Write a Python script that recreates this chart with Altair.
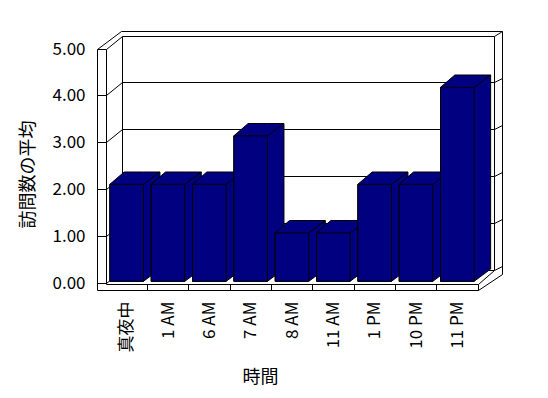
import json
import altair as alt
import pandas as pd

# ---------------- data ----------------
categories = ["真夜中", "1 AM", "6 AM", "7 AM", "8 AM", "11 AM", "1 PM", "10 PM", "11 PM"]
avg_visits = [2, 2, 2, 3, 1, 1, 2, 2, 4]
y_ticks = [0, 1, 2, 3, 4, 5]
x_title = "時間"
y_title = "訪問数の平均"

# ---------------- style / geometry ----------------
FONT = "Noto Sans CJK JP"
NAVY = "#000080"
PAD_L, PAD_T, PAD_R, PAD_B = 106, 49, 70, 115
W, H = 372, 234
N = len(categories)
YMAX = 5
STEP = W / N          # px per category
UNIT = H / YMAX       # px per value unit on the front plane


def ux(px):
    return (px - PAD_L) / STEP - 0.5


def uy(py):
    return (PAD_T + H - py) / UNIT


def snap(p):
    return int(p) + 0.5


# wall / floor outline (3-D frame decoration)
xLO, xLI, xBL, xBR, xRO, xFR = 97.5, 106.5, 122.5, 494.5, 502.5, 478.5
yFT, yBT, yOT = 49.5, 36.5, 31.5
yFLT, yFLB, yBB, yROB = 284.5, 290.5, 270.5, 274.5
DEPTH_Y = 13

segs = []


def seg(x1, y1, x2, y2):
    segs.append(dict(x=ux(x1), y=uy(y1), x2=ux(x2), y2=uy(y2)))


# left wall
seg(xLO, yFT, xLO, yFLB)
seg(xLI, yFT, xLI, yFLT)
seg(xLO, yFT, xLI, yFT)
seg(xLO, yFT, xBL - 1, yOT)
seg(xLI, yFT, xBL, yBT)
# back wall
seg(xBL - 1, yOT, xRO, yOT)
seg(xBL, yBT, xBR, yBT)
seg(xBL, yBT, xBL, yBB)
seg(xBR, yBT, xBR, yBB)
seg(xBR, yBT, xRO, yOT)
seg(xRO, yOT, xRO, yROB)
# floor
seg(xLO, yFLB, xFR, yFLB)
seg(xLI, yFLT, xFR, yFLT)
seg(xFR, yFLT, xFR, yFLB)
seg(xFR, yFLT, xBR, yBB)
seg(xFR, yFLB, xRO, yROB)
for k in range(1, N):
    xk = snap(PAD_L + k * STEP)
    seg(xk, yFLT, xk, yFLB)
# gridlines: front tick, left-wall diagonal, back wall line, right-wall stub
for v in y_ticks[:-1]:
    yf = snap(PAD_T + H - v * UNIT)
    yb = yf - DEPTH_Y
    seg(xLO, yf, xLI, yf)
    seg(xLI, yf, xBL, yb)
    seg(xBL, yb, xBR, yb)
    seg(xBR, yb, xRO, yb - 4)

frame_df = pd.DataFrame(segs)

# bars (3-D columns)
BAR_UNIT = 48.5
BAR_BOTTOM = 232.3
HW = 16.8 / STEP
DXL = 14.3 / STEP
DXR = 16.5 / STEP
DYB = 12.3 / BAR_UNIT

hex_rows, bar_rows = [], []
for i, (c, v) in enumerate(zip(categories, avg_visits)):
    hex_rows += [
        dict(i=i, x=i - HW, y=v, y2=0),
        dict(i=i, x=i - HW + DXL, y=v + DYB, y2=0),
        dict(i=i, x=i + HW, y=v + DYB, y2=0),
        dict(i=i, x=i + HW + DXR, y=v + DYB, y2=DYB),
    ]
    bar_rows.append(dict(i=i, cat=c, v=v, b0=0, xl=i - HW, xr=i + HW,
                         dx2=i + HW + DXR, vt=v + DYB))
hex_df = pd.DataFrame(hex_rows)
bar_df = pd.DataFrame(bar_rows)

# ---------------- scales / axes ----------------
xs = alt.Scale(domain=[-0.5, N - 0.5], nice=False, zero=False)
ys = alt.Scale(domain=[0, YMAX], nice=False, zero=False)
ybar = alt.Scale(domain=[0, YMAX], range=[BAR_BOTTOM, BAR_BOTTOM - YMAX * BAR_UNIT],
                 nice=False, zero=False)

label_expr = json.dumps(categories, ensure_ascii=False) + "[datum.value]"
xaxis = alt.Axis(values=list(range(N)), labelExpr=label_expr, labelAngle=270,
                 labelAlign="right", labelBaseline="middle", labelPadding=18,
                 ticks=False, domain=False, grid=False, labelFlush=False,
                 labelOverlap=False, labelBound=False,
                 labelFont=FONT, labelFontSize=17, labelColor="black",
                 title=x_title, titleFont=FONT, titleFontSize=18,
                 titleFontWeight="normal", titleColor="black",
                 titleX=154, titleY=94, titleAlign="center", titleBaseline="middle")
yaxis = alt.Axis(values=y_ticks, format=".2f", ticks=False, domain=False, grid=False,
                 labelPadding=21, labelFlush=False, labelOverlap=False,
                 labelFont=FONT, labelFontSize=17, labelColor="black",
                 title=y_title, titleFont=FONT, titleFontSize=18,
                 titleFontWeight="normal", titleColor="black", titleAngle=270,
                 titleX=-77.5, titleY=125, titleAlign="center", titleBaseline="middle")


def X(f):
    return alt.X(f, type="quantitative", scale=xs, axis=xaxis)


frame = alt.Chart(frame_df).mark_rule(color="black", strokeWidth=1).encode(
    x=X("x"), x2="x2:Q",
    y=alt.Y("y:Q", scale=ys, axis=yaxis), y2="y2:Q",
)

hexes = alt.Chart(hex_df).mark_area(fill=NAVY, stroke="black", strokeWidth=1,
                                    interpolate="linear", opacity=1).encode(
    x=X("x"),
    y=alt.Y("y:Q", scale=ybar, axis=None), y2="y2:Q",
    detail="i:N",
)
edges = alt.Chart(bar_df).mark_rule(color="black", strokeWidth=1).encode(
    x=X("xr"), x2="dx2:Q",
    y=alt.Y("v:Q", scale=ybar, axis=None), y2="vt:Q",
)
fronts = alt.Chart(bar_df).mark_rect(fill=NAVY, stroke="black", strokeWidth=1).encode(
    x=X("xl"), x2="xr:Q",
    y=alt.Y("v:Q", scale=ybar, axis=None), y2="b0:Q",
    tooltip=["cat:N", "v:Q"],
)
bars = alt.layer(hexes, edges, fronts)

chart = alt.layer(frame, bars).resolve_scale(y="independent").properties(
    width=W, height=H,
    autosize=alt.AutoSizeParams(type="none"),
    padding={"left": PAD_L, "top": PAD_T, "right": PAD_R, "bottom": PAD_B},
    background="white",
).configure_view(stroke=None)

chart.save("out.html", embed_options={"renderer": "svg", "actions": False})
